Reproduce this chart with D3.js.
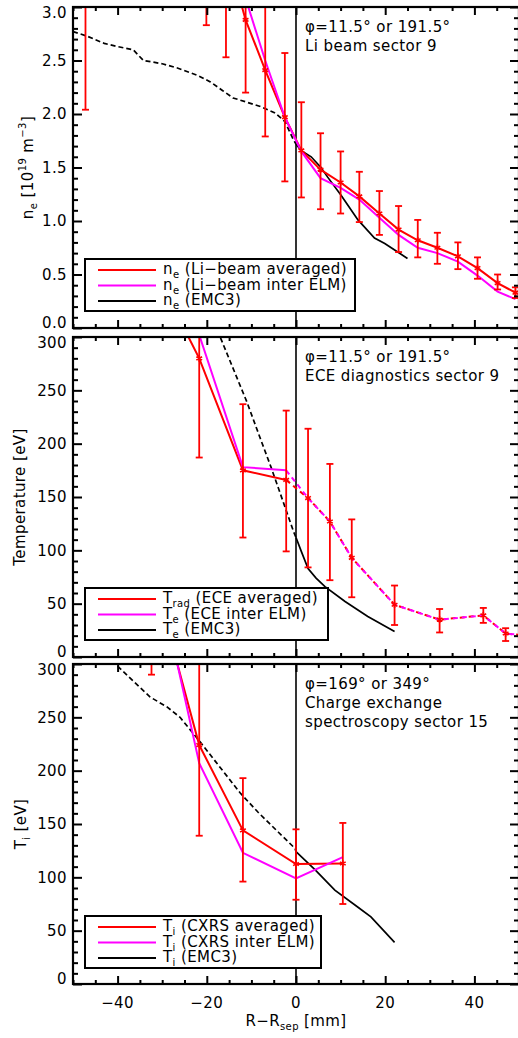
<!DOCTYPE html>
<html>
<head>
<meta charset="utf-8">
<script src="https://cdn.jsdelivr.net/npm/d3@7"></script>
<style>
  body { margin: 0; background: #fff; }
  text { font-family: "DejaVu Sans", sans-serif; fill: #000; letter-spacing: 0.4px; }
</style>
</head>
<body>
<svg width="518" height="1038"></svg>
<script>
var svg = d3.select("svg");

// ---- data: density (Li beam), sector 9
var liX      = [-47.2, -20.1, -15.7, -11.3, -6.9, -2.5, 1.2, 5.5, 10.0, 14.2, 18.7, 23.0, 27.3, 31.7, 36.3, 40.7, 45.2, 49.2];
var liAvg    = [5.2, 4.2, 3.54, 2.88, 2.41, 1.97, 1.66, 1.48, 1.36, 1.23, 1.07, 0.92, 0.82, 0.75, 0.67, 0.56, 0.42, 0.33];
var liLo     = [2.04, 2.83, 2.53, 2.20, 1.79, 1.37, 1.22, 1.11, 1.07, 0.99, 0.87, 0.71, 0.66, 0.60, 0.55, 0.46, 0.36, 0.28];
var liHi     = [8.0, 5.5, 4.6, 3.56, 3.05, 2.57, 2.11, 1.82, 1.65, 1.46, 1.28, 1.14, 1.01, 0.89, 0.80, 0.66, 0.50, 0.38];
var liInter  = [5.6, 4.5, 3.7, 3.08, 2.50, 1.97, 1.65, 1.40, 1.31, 1.20, 1.03, 0.87, 0.75, 0.70, 0.62, 0.49, 0.34, 0.27];
var emcNeX   = [-50, -47, -43, -40, -36.5, -34.2, -30, -26.6, -22, -19.2, -16.5, -14.1, -11, -8, -4.7, -2.5, -0.6, 0, 1.1, 3.4, 5.6, 7.1, 10.1, 13.9, 17.6, 19.9, 22.8, 25];
var emcNe    = [2.77, 2.73, 2.66, 2.63, 2.60, 2.50, 2.47, 2.43, 2.36, 2.30, 2.22, 2.15, 2.11, 2.07, 2.01, 1.93, 1.76, 1.72, 1.66, 1.60, 1.50, 1.41, 1.24, 1.01, 0.84, 0.79, 0.71, 0.65];

// ---- data: electron temperature (ECE), sector 9
var eceX     = [-31.5, -21.7, -11.9, -2.2, 2.7, 7.6, 12.5, 22.1, 32.2, 42, 47, 52];
var eceAvg   = [361, 280, 175, 166, 149, 127, 93, 49, 35, 39, 22, 20];
var eceLo    = [310, 187, 112, 99, 84, 72, 56, 30, 23, 32, 15, 14];
var eceHi    = [420, 375, 237, 231, 214, 181, 129, 67, 45, 46, 27, 26];
var eceInter = [380, 302, 178, 175, 149, 127, 93, 49, 35, 39, 22, 20];
var eceDashFrom = -2.2;
var emcTeX   = [-19, -17, -11, -8.1, -5.6, -2.5, -0.5, 0, 1.1, 2.7, 4.5, 6.5, 11, 16.1, 22.1];
var emcTe    = [320, 300, 239, 206, 178, 141, 117, 112, 100, 83, 74, 66, 52, 38, 24];

// ---- data: ion temperature (CXRS), sector 15
var cxX      = [-32.4, -21.7, -11.9, 0, 10.5];
var cxAvg    = [390, 224, 144, 112.5, 113];
var cxLo     = [290, 139, 96, 79, 75];
var cxHi     = [490, 310, 193, 145, 151];
var cxInter  = [410, 207, 123, 99, 119];
var emcTiX   = [-40, -36, -32.7, -29, -26, -21.5, -17, -12.5, -8.5, -4, -0.2, 0, 4.3, 8.7, 13.9, 16.8, 22.1];
var emcTi    = [298, 282, 269, 260, 250, 227, 203, 179, 161, 142.5, 127, 124, 107, 88, 72, 63, 39];

var xTicks = [-40, -20, 0, 20, 40];

var x = d3.scaleLinear().domain([-50, 50]).range([73, 519]);

function zip(xs, ys) { return xs.map(function(d, i){ return [d, ys[i]]; }); }

function rich(sel, parts) {
  var shift = 0;
  parts.forEach(function(p){
    var off = p.sub ? 4 : p.sup ? -7 : 0;
    sel.append("tspan")
      .attr("dy", off - shift)
      .style("font-size", (p.sub || p.sup) ? "10px" : null)
      .text(p.t);
    shift = off;
  });
}

function panel(cfg) {
  var y = d3.scaleLinear().domain(cfg.domain).range([cfg.y1, cfg.y0]);
  var g = svg.append("g");
  var id = "clip" + cfg.name;

  svg.append("clipPath").attr("id", id)
    .append("rect")
      .attr("x", x(-50)).attr("y", cfg.y0)
      .attr("width", x(50) - x(-50)).attr("height", cfg.y1 - cfg.y0);

  var plot = g.append("g").attr("clip-path", "url(#" + id + ")");
  var line = d3.line().x(function(d){ return x(d[0]); }).y(function(d){ return y(d[1]); });

  // separatrix
  plot.append("line")
    .attr("x1", x(0)).attr("x2", x(0)).attr("y1", cfg.y0).attr("y2", cfg.y1)
    .attr("stroke", "black").attr("stroke-width", 1.6);

  // model
  var emc = zip(cfg.emcX, cfg.emc);
  plot.append("path").attr("d", line(emc.filter(function(d){ return d[0] <= 0; })))
    .attr("fill", "none").attr("stroke", "black").attr("stroke-width", 1.7).attr("stroke-dasharray", "5,3");
  plot.append("path").attr("d", line(emc.filter(function(d){ return d[0] >= 0; })))
    .attr("fill", "none").attr("stroke", "black").attr("stroke-width", 1.7);

  // measured profiles (solid, then dashed part if any)
  var cut = cfg.dashFrom == null ? 1e9 : cfg.dashFrom;
  [["#ff0000", cfg.avg], ["#ff00ff", cfg.inter]].forEach(function(s){
    var pts = zip(cfg.xs, s[1]);
    plot.append("path").attr("d", line(pts.filter(function(d){ return d[0] <= cut; })))
      .attr("fill", "none").attr("stroke", s[0]).attr("stroke-width", 2);
    if (cut < 1e9)
      plot.append("path").attr("d", line(pts.filter(function(d){ return d[0] >= cut; })))
        .attr("fill", "none").attr("stroke", s[0]).attr("stroke-width", 2).attr("stroke-dasharray", "5,4");
  });

  // error bars
  var eb = plot.append("g").attr("stroke", "#ff0000").attr("stroke-width", 1.8);
  cfg.xs.forEach(function(xv, i){
    var cx = x(xv);
    eb.append("line").attr("x1", cx).attr("x2", cx).attr("y1", y(cfg.lo[i])).attr("y2", y(cfg.hi[i]));
    [cfg.lo[i], cfg.hi[i]].forEach(function(v){
      eb.append("line").attr("x1", cx - 3.5).attr("x2", cx + 3.5).attr("y1", y(v)).attr("y2", y(v));
    });
  });
  plot.selectAll("path.star")
    .data(zip(cfg.xs, cfg.avg))
    .enter().append("path")
      .attr("class", "star")
      .attr("d", d3.symbol(d3.symbolAsterisk, 30))
      .attr("transform", function(d){ return "translate(" + x(d[0]) + "," + y(d[1]) + ")"; })
      .attr("fill", "none").attr("stroke", "#ff0000").attr("stroke-width", 1.6);

  // frame
  g.append("rect")
    .attr("x", x(-50)).attr("y", cfg.y0)
    .attr("width", x(50) - x(-50)).attr("height", cfg.y1 - cfg.y0)
    .attr("fill", "none").attr("stroke", "black").attr("stroke-width", 2.2);

  // y ticks; end labels pulled inward like the original
  var ends = d3.extent(cfg.major);
  var ax = g.append("g").attr("transform", "translate(" + x(-50) + ",0)")
    .call(d3.axisLeft(y).tickValues(cfg.major).tickSizeInner(-9).tickSizeOuter(0).tickPadding(6).tickFormat(cfg.fmt));
  ax.select(".domain").remove();
  ax.selectAll("line").attr("stroke-width", 2);
  ax.selectAll("text").style("font-size", "15px").attr("fill", "black")
    .attr("y", function(d){ return d === ends[0] ? -5 : d === ends[1] ? 6 : 0; });
  g.append("g").attr("transform", "translate(" + x(-50) + ",0)")
    .call(d3.axisLeft(y).tickValues(cfg.minor).tickSizeInner(-5).tickSizeOuter(0).tickFormat(""))
    .call(function(a){ a.select(".domain").remove(); a.selectAll("line").attr("stroke-width", 2); });
  [[cfg.major, 9], [cfg.minor, 5]].forEach(function(t){
    g.append("g").attr("transform", "translate(" + x(50) + ",0)")
      .call(d3.axisRight(y).tickValues(t[0]).tickSizeInner(-t[1]).tickSizeOuter(0).tickFormat(""))
      .call(function(a){ a.select(".domain").remove(); a.selectAll("line").attr("stroke-width", 2); });
  });

  // x ticks, top and bottom
  var xMinor = d3.range(-50, 51, 5).filter(function(v){ return xTicks.indexOf(v) < 0; });
  [[cfg.y1, d3.axisBottom], [cfg.y0, d3.axisTop]].forEach(function(s){
    [[xTicks, 8], [xMinor, 4]].forEach(function(t){
      g.append("g").attr("transform", "translate(0," + s[0] + ")")
        .call(s[1](x).tickValues(t[0]).tickSizeInner(-t[1]).tickSizeOuter(0).tickFormat(""))
        .call(function(a){ a.select(".domain").remove(); a.selectAll("line").attr("stroke-width", 2); });
    });
  });

  // y title
  var yt = g.append("text")
    .attr("transform", "translate(" + cfg.titleX + "," + ((cfg.y0 + cfg.y1) / 2) + ") rotate(-90)")
    .attr("text-anchor", "middle").style("font-size", "15px");
  rich(yt, cfg.title);

  // annotation
  cfg.note.forEach(function(s, i){
    g.append("text").attr("x", 305).attr("y", cfg.y0 + 25 + i * 19).style("font-size", "15px").text(s);
  });

  // legend
  var L = cfg.legend;
  g.append("rect").attr("x", 85).attr("y", L.y).attr("width", L.w).attr("height", 52)
    .attr("fill", "white").attr("stroke", "black").attr("stroke-width", 2);
  var cols = ["#ff0000", "#ff00ff", "black"];
  L.items.forEach(function(parts, i){
    var ly = L.y + 11 + i * 15.5;
    g.append("line").attr("x1", 98).attr("x2", 156).attr("y1", ly).attr("y2", ly)
      .attr("stroke", cols[i]).attr("stroke-width", 1.8);
    var t = g.append("text").attr("x", 163).attr("y", ly + 4).style("font-size", "15px");
    rich(t, parts);
  });
  return g;
}

var ticksNe = d3.range(0, 3.01, 0.5), minorNe = d3.range(0, 3.01, 0.1).filter(function(v){ return Math.abs(v * 2 - Math.round(v * 2)) > 1e-6; });
var ticksT = d3.range(0, 301, 50), minorT = d3.range(0, 301, 10).filter(function(v){ return v % 50 !== 0; });

panel({
  name: "ne", y0: 7, y1: 328, domain: [0, 3], major: ticksNe, minor: minorNe, fmt: d3.format(".1f"),
  xs: liX, avg: liAvg, lo: liLo, hi: liHi, inter: liInter, emcX: emcNeX, emc: emcNe,
  titleX: 33,
  title: [{t: "n"}, {t: "e", sub: true}, {t: " [10"}, {t: "19", sup: true}, {t: " m"}, {t: "−3", sup: true}, {t: "]"}],
  note: ["φ=11.5° or 191.5°", "Li beam sector 9"],
  legend: {y: 259, w: 270, items: [
    [{t: "n"}, {t: "e", sub: true}, {t: " (Li−beam averaged)"}],
    [{t: "n"}, {t: "e", sub: true}, {t: " (Li−beam inter ELM)"}],
    [{t: "n"}, {t: "e", sub: true}, {t: " (EMC3)"}]
  ]}
});

panel({
  name: "te", y0: 337, y1: 657, domain: [0, 300], major: ticksT, minor: minorT, fmt: d3.format("d"),
  xs: eceX, avg: eceAvg, lo: eceLo, hi: eceHi, inter: eceInter, dashFrom: eceDashFrom, emcX: emcTeX, emc: emcTe,
  titleX: 25,
  title: [{t: "Temperature [eV]"}],
  note: ["φ=11.5° or 191.5°", "ECE diagnostics sector 9"],
  legend: {y: 588, w: 243, items: [
    [{t: "T"}, {t: "rad", sub: true}, {t: " (ECE averaged)"}],
    [{t: "T"}, {t: "e", sub: true}, {t: " (ECE inter ELM)"}],
    [{t: "T"}, {t: "e", sub: true}, {t: " (EMC3)"}]
  ]}
});

panel({
  name: "ti", y0: 664, y1: 984, domain: [0, 300], major: ticksT, minor: minorT, fmt: d3.format("d"),
  xs: cxX, avg: cxAvg, lo: cxLo, hi: cxHi, inter: cxInter, emcX: emcTiX, emc: emcTi,
  titleX: 26,
  title: [{t: "T"}, {t: "i", sub: true}, {t: " [eV]"}],
  note: ["φ=169° or 349°", "Charge exchange", "spectroscopy sector 15"],
  legend: {y: 916, w: 236, items: [
    [{t: "T"}, {t: "i", sub: true}, {t: " (CXRS averaged)"}],
    [{t: "T"}, {t: "i", sub: true}, {t: " (CXRS inter ELM)"}],
    [{t: "T"}, {t: "i", sub: true}, {t: " (EMC3)"}]
  ]}
});

// x tick labels and title (bottom panel only)
svg.append("g").selectAll("text")
  .data(xTicks)
  .enter().append("text")
    .attr("x", function(d){ return x(d); })
    .attr("y", 1008)
    .attr("text-anchor", "middle")
    .style("font-size", "15px")
    .text(function(d){ return d < 0 ? "−" + Math.abs(d) : d; });

var xt = svg.append("text").attr("x", x(0)).attr("y", 1026).attr("text-anchor", "middle").style("font-size", "15px");
rich(xt, [{t: "R−R"}, {t: "sep", sub: true}, {t: " [mm]"}]);
</script>
</body>
</html>
